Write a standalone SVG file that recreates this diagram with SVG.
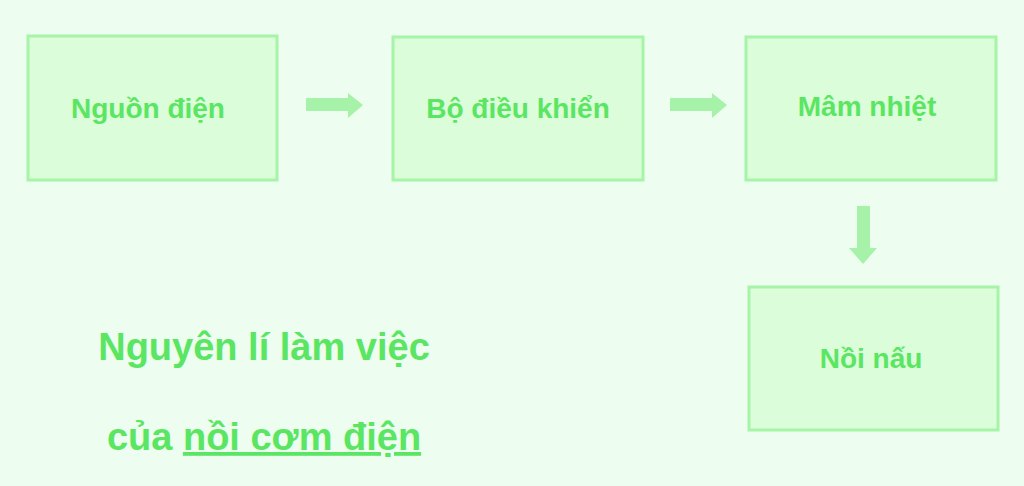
<svg xmlns="http://www.w3.org/2000/svg" width="1024" height="486" viewBox="0 0 1024 486">
<style>
.box{fill:#dcfdd9;stroke:#a6f4a8;stroke-width:3}
.lbl{font-family:"Liberation Sans",Arial,sans-serif;font-weight:bold;font-size:28px;fill:#5ae662;text-anchor:middle}
.big{font-family:"Liberation Sans",Arial,sans-serif;font-weight:bold;font-size:38px;fill:#5ae662;text-anchor:middle}
.arr{fill:#a6f2a8}
</style>
<rect width="1024" height="486" fill="#edfdef"/>
<g id="n1"><rect class="box" x="28" y="36" width="249" height="144"/><text class="lbl" x="148" y="118">Nguồn điện</text></g>
<g id="n2"><rect class="box" x="393" y="37" width="250" height="143"/><text class="lbl" x="518" y="118">Bộ điều khiển</text></g>
<g id="n3"><rect class="box" x="746" y="37" width="250" height="143"/><text class="lbl" x="867" y="116">Mâm nhiệt</text></g>
<g id="n4"><rect class="box" x="749" y="287" width="249" height="143"/><text class="lbl" x="871" y="368">Nồi nấu</text></g>
<g id="connectors">
<polygon class="arr" points="306,98 348,98 348,93 363,105 348,118 348,111 306,111"/>
<polygon class="arr" points="670,98 712,98 712,93 727,105 712,118 712,111 670,111"/>
<polygon class="arr" points="857,206 870,206 870,248 877,248 863,264 849,248 857,248"/>
</g>
<g id="title">
<text class="big" x="264" y="360">Nguyên lí làm việc</text>
<text class="big" x="264" y="450">của <tspan text-decoration="underline">nồi cơm điện</tspan></text>
</g>
</svg>
